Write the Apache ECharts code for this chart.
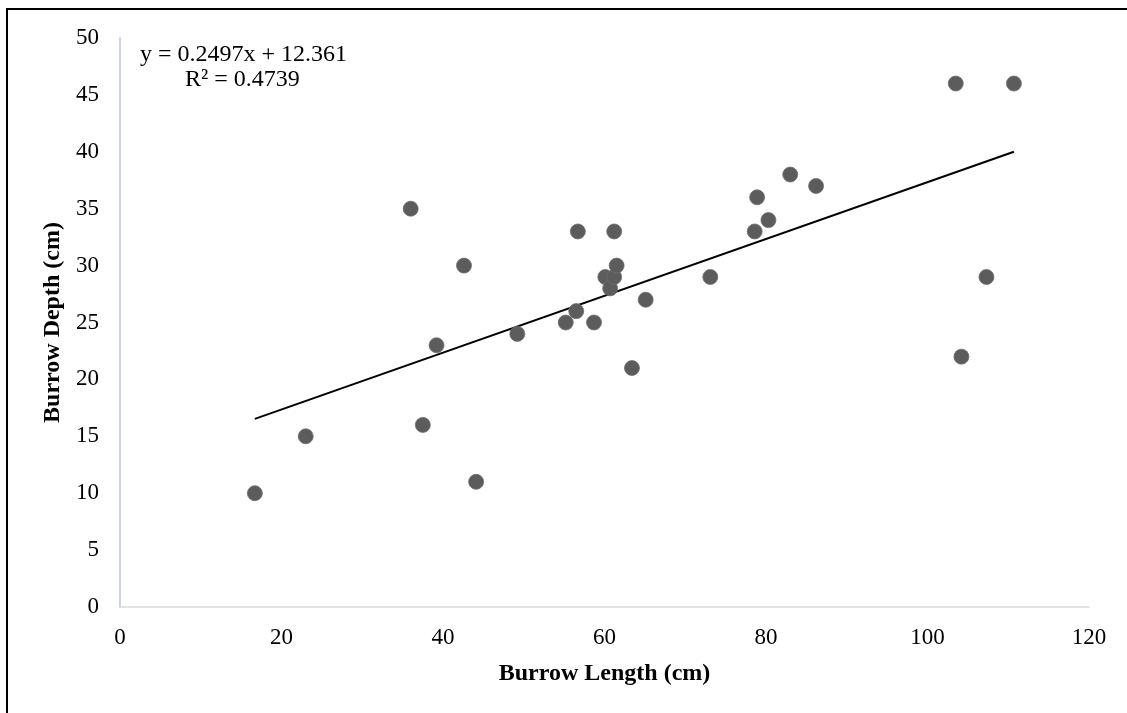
<!DOCTYPE html>
<html>
<head>
<meta charset="utf-8">
<script src="https://cdn.jsdelivr.net/npm/echarts@6/dist/echarts.min.js"></script>
<style>
  html, body { margin: 0; padding: 0; background: #fff; }
  #chart { width: 1127px; height: 713px; }
</style>
</head>
<body>
<div id="chart"></div>
<script>
// burrow length (cm) vs depth (cm)
const burrowLength = [16.7, 23.0, 36.0, 37.5, 39.2, 42.6, 44.1, 49.2, 55.2, 56.5,
  56.7, 58.7, 60.1, 60.7, 61.2, 61.2, 61.5, 63.4, 65.1, 73.1,
  78.6, 78.9, 80.3, 83.0, 86.2, 103.5, 104.2, 107.3, 110.7]
const burrowDepth = [10, 15, 35, 16, 23, 30, 11, 24, 25, 26,
  33, 25, 29, 28, 29, 33, 30, 21, 27, 29,
  33, 36, 34, 38, 37, 46, 22, 29, 46]

// linear trendline as printed on the chart
const slope = 0.2497
const intercept = 12.361
const equationText = 'y = 0.2497x + 12.361'
const r2Text = 'R² = 0.4739'

const points = burrowLength.map((x, i) => [x, burrowDepth[i]])
const xMin = Math.min(...burrowLength)
const xMax = Math.max(...burrowLength)
const trend = [[xMin, slope * xMin + intercept], [xMax, slope * xMax + intercept]]

const font = '"Liberation Serif", "Times New Roman", serif'

const chart = echarts.init(document.getElementById('chart'))
chart.setOption({
  animation: false,
  grid: {
    left: 120,
    right: 38,
    top: 38,
    bottom: 106
  },
  xAxis: {
    type: 'value',
    min: 0,
    max: 120,
    interval: 20,
    name: 'Burrow Length (cm)',
    nameLocation: 'middle',
    nameGap: 55,
    nameTextStyle: { fontFamily: font, fontSize: 24, fontWeight: 'bold', color: '#000' },
    axisLine: { show: true, lineStyle: { color: '#d9d9d9', width: 1.5 } },
    axisTick: { show: false },
    splitLine: { show: false },
    axisLabel: { fontFamily: font, fontSize: 23, color: '#000', margin: 19 }
  },
  yAxis: {
    type: 'value',
    min: 0,
    max: 50,
    interval: 5,
    name: 'Burrow Depth (cm)',
    nameLocation: 'middle',
    nameGap: 53,
    nameTextStyle: { fontFamily: font, fontSize: 24, fontWeight: 'bold', color: '#000' },
    axisLine: { show: true, lineStyle: { color: '#bcc5d8', width: 1.5 } },
    axisTick: { show: false },
    splitLine: { show: false },
    axisLabel: { fontFamily: font, fontSize: 23, color: '#000', margin: 21 }
  },
  series: [
    {
      type: 'line',
      data: trend,
      symbol: 'none',
      lineStyle: { color: '#000', width: 2 },
      z: 1
    },
    {
      type: 'scatter',
      data: points,
      symbolSize: 15,
      itemStyle: {
        color: '#5c5c5c',
        borderColor: '#6e6e6e',
        borderWidth: 0.8,
        opacity: 1
      },
      z: 2
    }
  ],
  graphic: [
    {
      type: 'polyline',
      shape: { points: [[7, 720], [7, 9], [1130, 9]] },
      style: { stroke: '#000', lineWidth: 2, fill: null }
    },
    {
      type: 'text',
      left: 140,
      top: 43,
      style: { text: equationText, fontFamily: font, fontSize: 24, fill: '#000' }
    },
    {
      type: 'text',
      left: 185,
      top: 68,
      style: { text: r2Text, fontFamily: font, fontSize: 24, fill: '#000' }
    }
  ]
})
</script>
</body>
</html>
